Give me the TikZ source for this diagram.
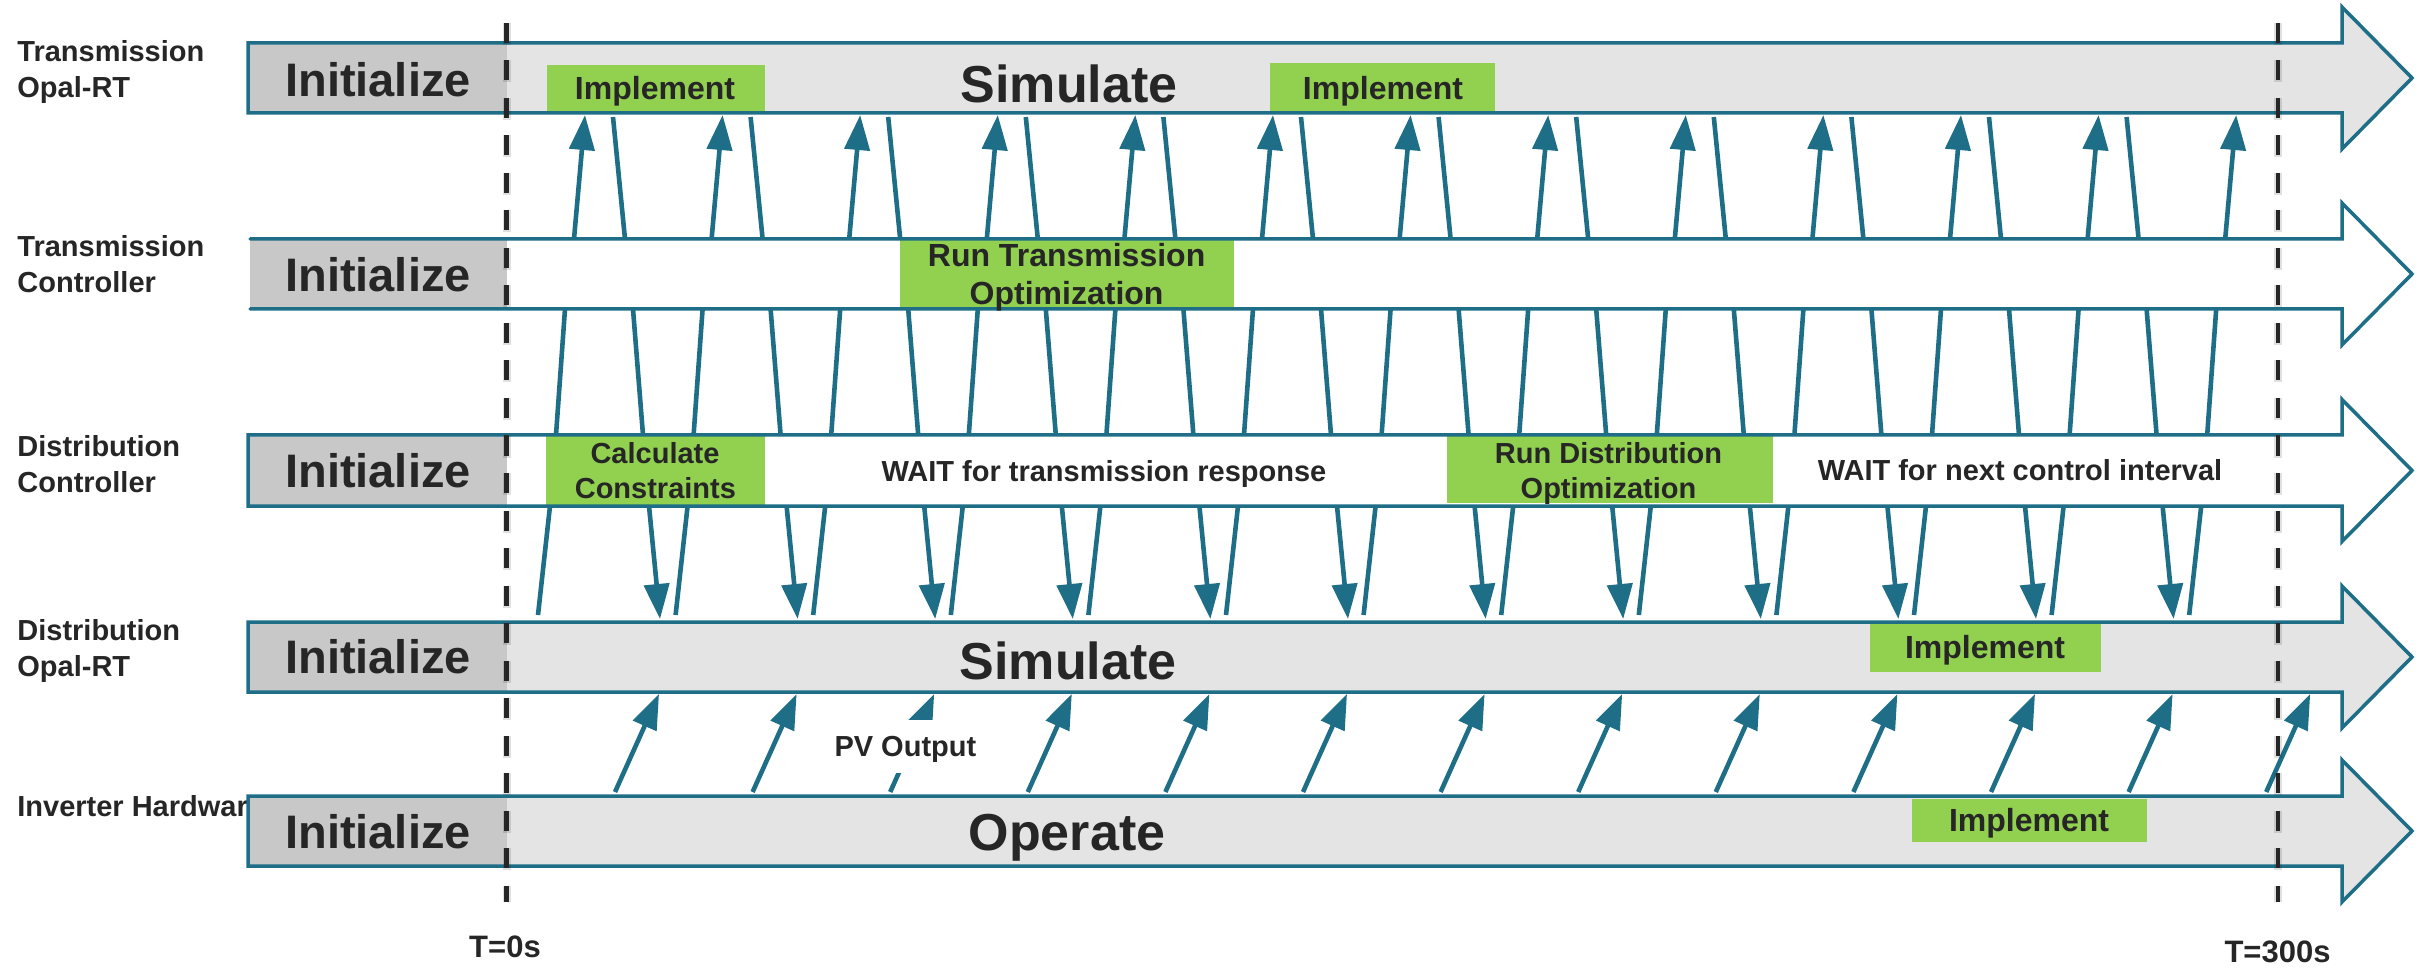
\documentclass[tikz,border=0pt]{standalone}
\usepackage{fontspec}
\setmainfont{Liberation Sans}
\usetikzlibrary{arrows.meta}

\definecolor{laneblue}{HTML}{1E6E87}
\definecolor{initgray}{HTML}{C8C8C8}
\definecolor{bodygray}{HTML}{E4E4E4}
\definecolor{leaf}{HTML}{92D050}
\definecolor{ink}{HTML}{262626}

% outline of one block-arrow lane: body from top to bottom, head of half-height 71
\newcommand\lanepath[2]{(248,#1) -- (2342,#1) -- (2342,{(#1+#2)/2-71}) -- (2412,{(#1+#2)/2}) -- (2342,{(#1+#2)/2+71}) -- (2342,#2) -- (248,#2) -- cycle}
% the same outline without its left edge
\newcommand\laneopenpath[2]{(250,#1) -- (2342,#1) -- (2342,{(#1+#2)/2-71}) -- (2412,{(#1+#2)/2}) -- (2342,{(#1+#2)/2+71}) -- (2342,#2) -- (250,#2)}

\begin{document}
\begin{tikzpicture}[x=0.5pt, y=-0.5pt,
  lanetitle/.style={anchor=base west, inner sep=0pt, text=ink, font=\fontsize{14.5}{17}\selectfont\bfseries},
  initword/.style={anchor=base, inner sep=0pt, text=ink, font=\fontsize{23.5}{28}\selectfont\bfseries},
  phaseword/.style={anchor=base, inner sep=0pt, text=ink, font=\fontsize{26}{31}\selectfont\bfseries},
  taskbox/.style={fill=leaf, draw=none, inner sep=0pt},
  bigtask/.style={anchor=base, inner sep=0pt, text=ink, font=\fontsize{16}{19}\selectfont\bfseries},
  smalltask/.style={anchor=base, inner sep=0pt, text=ink, font=\fontsize{14.5}{17}\selectfont\bfseries},
  laneedge/.style={draw=laneblue, line width=1.75pt, line join=miter},
  msg/.style={draw=laneblue, line width=2.3pt},
  msgtip/.style={msg, -{Triangle[length=17.5pt, width=12.5pt]}},
  timeline/.style={draw=ink, line width=2.25pt, dash pattern=on 10pt off 8.75pt},
  timeshadow/.style={draw=black, opacity=0.12, line width=4pt, dash pattern=on 11pt off 7.75pt},
  timestamp/.style={anchor=base, inner sep=0pt, text=ink, font=\fontsize{15.5}{18}\selectfont\bfseries}
]
\useasboundingbox (0,0) rectangle (2433,973);

% lane titles (drawn first: the last lane overlaps its title)
\node[lanetitle] (l1a) at (17,61.7) {Transmission};
\node[lanetitle] (l1b) at (17,98) {Opal-RT};
\node[lanetitle] (l2a) at (17,257) {Transmission};
\node[lanetitle] (l2b) at (17,293) {Controller};
\node[lanetitle] (l3a) at (17,456.7) {Distribution};
\node[lanetitle] (l3b) at (17,492.3) {Controller};
\node[lanetitle] (l4a) at (17,640) {Distribution};
\node[lanetitle] (l4b) at (17,676) {Opal-RT};
\node[lanetitle] (l5a) at (17,816.7) {Inverter Hardware};

% lane bodies
\fill[bodygray] \lanepath{43}{113};
\fill[white] \lanepath{239}{309};
\fill[white] \lanepath{435}{506};
\fill[bodygray] \lanepath{622}{692};
\fill[bodygray] \lanepath{796}{866};

% initialisation phase
\foreach \t/\b in {43/113, 435/506, 622/692, 796/866}
  \fill[initgray] (248,\t) rectangle (507,\b);
\fill[initgray] (250,239) rectangle (507,309);

% task boxes
\node[taskbox, minimum width=109pt, minimum height=23pt] (impl1) at (656,88) {};
\node[taskbox, minimum width=112.5pt, minimum height=24pt] (impl2) at (1382.5,86.7) {};
\node[taskbox, minimum width=167pt, minimum height=33.5pt] (topt) at (1066.6,273.3) {};
\node[taskbox, minimum width=109.5pt, minimum height=35pt] (calc) at (655.5,471) {};
\node[taskbox, minimum width=163pt, minimum height=33.5pt] (dopt) at (1609.5,469.7) {};
\node[taskbox, minimum width=115.5pt, minimum height=24pt] (impl4) at (1985.5,647.5) {};
\node[taskbox, minimum width=117.5pt, minimum height=21.5pt] (impl5) at (2029.5,820.2) {};

% lane outlines
\draw[laneedge] \lanepath{43}{113};
\draw[laneedge, line cap=round] \laneopenpath{239}{309};
\draw[laneedge] \lanepath{435}{506};
\draw[laneedge] \lanepath{622}{692};
\draw[laneedge] \lanepath{796}{866};

% phase names
\node[initword] (init1) at (378,96.7) {Initialize};
\node[initword] (init2) at (378,291.7) {Initialize};
\node[initword] (init3) at (378,487.3) {Initialize};
\node[initword] (init4) at (378,673.3) {Initialize};
\node[initword] (init5) at (378,848.3) {Initialize};
\node[phaseword] (sim1) at (1069,103) {Simulate};
\node[phaseword] (sim4) at (1068,679.3) {Simulate};
\node[phaseword] (oper5) at (1067,850.7) {Operate};

% task texts
\node[bigtask] (impl1t) at (655,100) {Implement};
\node[bigtask] (impl2t) at (1383,100) {Implement};
\node[bigtask] (topta) at (1066.6,266.7) {Run Transmission};
\node[bigtask] (toptb) at (1066.6,304.5) {Optimization};
\node[smalltask] (calca) at (655,463.3) {Calculate};
\node[smalltask] (calcb) at (655.4,498.3) {Constraints};
\node[smalltask] (dopta) at (1608.5,463.3) {Run Distribution};
\node[smalltask] (doptb) at (1608.5,498.3) {Optimization};
\node[bigtask] (impl4t) at (1985,658.3) {Implement};
\node[bigtask] (impl5t) at (2029,831.7) {Implement};
\node[smalltask] (wait1) at (1104,481.7) {WAIT for transmission response};
\node[smalltask] (wait2) at (2020,480.7) {WAIT for next control interval};

% messages between Transmission Controller and Transmission Opal-RT
\foreach \k in {0,...,12} {
  \coordinate (ra\k) at ({574+137.6*\k},239);
  \coordinate (rb\k) at ({585+137.6*\k},115);
  \draw[msgtip] (ra\k) -- (rb\k);
}
\foreach \k in {0,...,11} {
  \coordinate (sa\k) at ({613+137.6*\k},117);
  \coordinate (sb\k) at ({625+137.6*\k},239);
  \draw[msg] (sa\k) -- (sb\k);
}
% messages between the two controllers
\foreach \k in {0,...,12} {
  \coordinate (ca\k) at ({565+137.6*\k},309);
  \coordinate (cb\k) at ({556+137.6*\k},435);
  \draw[msg] (ca\k) -- (cb\k);
}
\foreach \k in {0,...,11} {
  \coordinate (da\k) at ({633+137.6*\k},309);
  \coordinate (db\k) at ({643+137.6*\k},435);
  \draw[msg] (da\k) -- (db\k);
}
% messages between Distribution Controller and Distribution Opal-RT
\foreach \k in {0,...,12} {
  \coordinate (ea\k) at ({550+137.6*\k},506);
  \coordinate (eb\k) at ({538+137.6*\k},615);
  \draw[msg] (ea\k) -- (eb\k);
}
\foreach \k in {0,...,11} {
  \coordinate (fa\k) at ({649+137.6*\k},506);
  \coordinate (fb\k) at ({660+137.6*\k},619);
  \draw[msgtip] (fa\k) -- (fb\k);
}
% PV output from the inverter to Distribution Opal-RT
\foreach \k in {0,...,12} {
  \coordinate (pa\k) at ({615+137.6*\k},792);
  \coordinate (pb\k) at ({659+137.6*\k},694);
  \draw[msgtip] (pa\k) -- (pb\k);
}
\node[smalltask, fill=white, inner xsep=3pt, text height=18.35pt, text depth=8.15pt] (pv) at (905.4,756.7) {PV Output};

% time markers
\coordinate (m0top) at (506.5,23);
\coordinate (m0bot) at (506.5,902);
\coordinate (m1top) at (2278,23);
\coordinate (m1bot) at (2278,902);
\draw[timeshadow, shift={(2,3)}] (m0top) -- (m0bot);
\draw[timeshadow, shift={(2,3)}] (m1top) -- (m1bot);
\draw[timeline] (m0top) -- (m0bot);
\draw[timeline] (m1top) -- (m1bot);
\node[timestamp] (t0) at (505,957.5) {T=0s};
\node[timestamp] (t300) at (2277.5,962.5) {T=300s};
\end{tikzpicture}
\end{document}
